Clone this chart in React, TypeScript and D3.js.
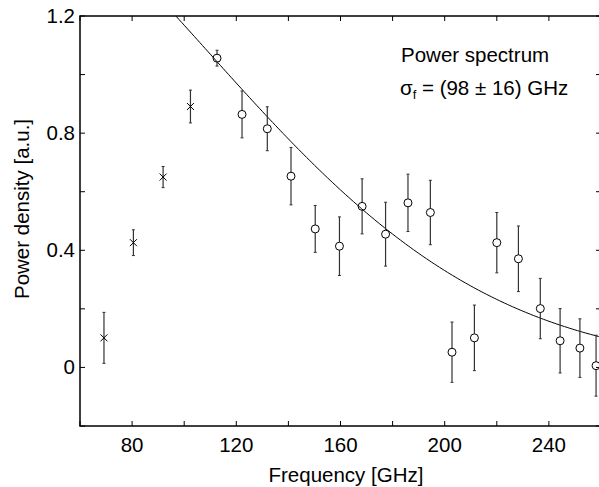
import React from "react";
import * as d3 from "d3";

const crossFreq = [69.2, 80.5, 91.9, 102.4];
const crossVal = [0.101, 0.426, 0.65, 0.891];
const crossErr = [0.087, 0.044, 0.036, 0.056];

const circFreq = [112.6, 122.2, 131.9, 141.0, 150.3, 159.6, 168.3, 177.3, 185.9, 194.5, 202.8, 211.4, 220.0, 228.3, 236.7, 244.3, 251.9, 258.1];
const circVal = [1.056, 0.864, 0.815, 0.653, 0.473, 0.414, 0.55, 0.455, 0.562, 0.529, 0.052, 0.101, 0.426, 0.371, 0.201, 0.091, 0.066, 0.006];
const circErr = [0.027, 0.08, 0.075, 0.098, 0.08, 0.1, 0.094, 0.109, 0.098, 0.11, 0.103, 0.112, 0.103, 0.112, 0.103, 0.11, 0.1, 0.104];

const fitAmplitude = 1.78;
const fitWidth = 109;

const xTicks = [60, 80, 100, 120, 140, 160, 180, 200, 220, 240, 260];
const xLabels = [80, 120, 160, 200, 240];
const yTicks = [-0.2, 0, 0.2, 0.4, 0.6, 0.8, 1.0, 1.2];
const yLabels = [0, 0.4, 0.8, 1.2];

const W = 599;
const H = 487;
const L = 80, R = 601, T = 16, B = 426;
const FONT = "'Liberation Sans', Arial, sans-serif";
const FS = 20.5;

export default function App() {
  const x = d3.scaleLinear().domain([60, 260]).range([L, R]);
  const y = d3.scaleLinear().domain([-0.2, 1.2]).range([B, T]);

  const fitF = d3.range(60, 261, 1);
  const line = d3
    .line<number>()
    .x((f) => x(f))
    .y((f) => y(fitAmplitude * Math.exp(-(f * f) / (2 * fitWidth * fitWidth))));

  const tick = 5;
  const cap = 1.5;
  const errColor = "#333";

  return (
    <div style={{ position: "fixed", left: 0, top: 0 }}>
      <svg width={W} height={H} style={{ display: "block", background: "#fff" }}>
        <defs>
          <clipPath id="plotclip">
            <rect x={L} y={T} width={R - L} height={B - T} />
          </clipPath>
        </defs>
        <rect x={0} y={0} width={W} height={H} fill="#fff" />
        {/* fit */}
        <path d={line(fitF) || ""} fill="none" stroke="#000" strokeWidth={1} clipPath="url(#plotclip)" />
        {/* crosses */}
        {crossFreq.map((f, i) => {
          const cx = x(f), cy = y(crossVal[i]);
          const y1 = y(crossVal[i] + crossErr[i]), y2 = y(crossVal[i] - crossErr[i]);
          const s = 3.5;
          return (
            <g key={"c" + i}>
              <line x1={cx} x2={cx} y1={y1} y2={y2} stroke={errColor} strokeWidth={1.2} />
              <line x1={cx - cap} x2={cx + cap} y1={y1} y2={y1} stroke={errColor} strokeWidth={1} />
              <line x1={cx - cap} x2={cx + cap} y1={y2} y2={y2} stroke={errColor} strokeWidth={1} />
              <line x1={cx - s} x2={cx + s} y1={cy - s} y2={cy + s} stroke="#000" strokeWidth={1} />
              <line x1={cx - s} x2={cx + s} y1={cy + s} y2={cy - s} stroke="#000" strokeWidth={1} />
            </g>
          );
        })}
        {/* circles */}
        <g clipPath="url(#plotclip)">
          {circFreq.map((f, i) => {
            const cx = x(f), cy = y(circVal[i]);
            const y1 = y(circVal[i] + circErr[i]), y2 = y(circVal[i] - circErr[i]);
            return (
              <g key={"o" + i}>
                <line x1={cx} x2={cx} y1={y1} y2={cy - 4} stroke={errColor} strokeWidth={1.2} />
                <line x1={cx} x2={cx} y1={cy + 4} y2={y2} stroke={errColor} strokeWidth={1.2} />
                <line x1={cx - cap} x2={cx + cap} y1={y1} y2={y1} stroke={errColor} strokeWidth={1} />
                <line x1={cx - cap} x2={cx + cap} y1={y2} y2={y2} stroke={errColor} strokeWidth={1} />
                <circle cx={cx} cy={cy} r={4} fill="none" stroke="#000" strokeWidth={1} />
              </g>
            );
          })}
        </g>
        {/* axes box */}
        <rect x={L} y={T} width={R - L} height={B - T} fill="none" stroke="#000" strokeWidth={1.5} />
        {xTicks.map((t) => (
          <g key={"xt" + t}>
            <line x1={x(t)} x2={x(t)} y1={B} y2={B - tick} stroke="#000" strokeWidth={1} />
            <line x1={x(t)} x2={x(t)} y1={T} y2={T + tick} stroke="#000" strokeWidth={1} />
          </g>
        ))}
        {yTicks.map((t) => (
          <g key={"yt" + t}>
            <line x1={L} x2={L + tick} y1={y(t)} y2={y(t)} stroke="#000" strokeWidth={1} />
            <line x1={R} x2={R - tick} y1={y(t)} y2={y(t)} stroke="#000" strokeWidth={1} />
          </g>
        ))}
        {xLabels.map((t) => (
          <text key={"xl" + t} x={x(t)} y={451.5} textAnchor="middle" fontFamily={FONT} fontSize={FS} fill="#000">
            {t}
          </text>
        ))}
        {yLabels.map((t) => (
          <text key={"yl" + t} x={75} y={y(t) + 7} textAnchor="end" fontFamily={FONT} fontSize={FS} fill="#000">
            {t === 0 ? "0" : t.toFixed(1)}
          </text>
        ))}
        <text x={346} y={481.5} textAnchor="middle" fontFamily={FONT} fontSize={FS} fill="#000">
          Frequency [GHz]
        </text>
        <text
          transform={`translate(29,209) rotate(-90)`}
          textAnchor="middle"
          fontFamily={FONT}
          fontSize={FS}
          fill="#000"
        >
          Power density [a.u.]
        </text>
        <text x={401} y={62} fontFamily={FONT} fontSize={FS} fill="#000">
          Power spectrum
        </text>
        <text x={400} y={95} fontFamily={FONT} fontSize={FS} fill="#000">
          σ<tspan fontSize={13} dy={4}>f</tspan>
          <tspan dy={-4}> = (98 ± 16) GHz</tspan>
        </text>
      </svg>
    </div>
  );
}
